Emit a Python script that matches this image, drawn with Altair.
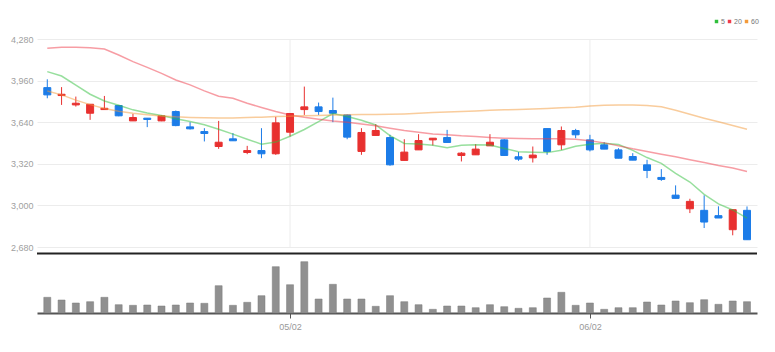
import altair as alt
import pandas as pd

# ---- data ----
opens  = [3906, 3845, 3773, 3709, 3737, 3768, 3650, 3671, 3650, 3722,
          3604, 3568, 3453, 3512, 3407, 3422, 3397, 3563, 3737, 3758,
          3730, 3696, 3415, 3538, 3522, 3346, 3427, 3504, 3522, 3384,
          3389, 3458, 3504, 3374, 3366, 3591, 3466, 3576, 3504, 3466,
          3427, 3376, 3312, 3215, 3079, 2974, 2962, 2921, 2813, 2962]
highs  = [3970, 3910, 3837, 3778, 3842, 3773, 3704, 3671, 3694, 3730,
          3640, 3594, 3650, 3556, 3458, 3594, 3681, 3707, 3914, 3791,
          3829, 3701, 3594, 3625, 3543, 3509, 3548, 3517, 3581, 3410,
          3471, 3548, 3509, 3410, 3453, 3591, 3607, 3589, 3543, 3486,
          3440, 3402, 3351, 3279, 3154, 3051, 3077, 2993, 2967, 2992]
lows   = [3824, 3773, 3760, 3658, 3737, 3686, 3650, 3602, 3648, 3609,
          3584, 3492, 3435, 3497, 3394, 3363, 3389, 3530, 3696, 3696,
          3640, 3509, 3389, 3538, 3305, 3346, 3427, 3461, 3484, 3338,
          3389, 3458, 3384, 3343, 3330, 3389, 3427, 3517, 3415, 3433,
          3363, 3348, 3210, 3189, 3054, 2941, 2826, 2903, 2770, 2736]
closes = [3850, 3855, 3786, 3778, 3747, 3689, 3676, 3661, 3689, 3614,
          3589, 3553, 3486, 3497, 3422, 3397, 3635, 3707, 3758, 3722,
          3709, 3525, 3561, 3576, 3312, 3410, 3499, 3517, 3484, 3402,
          3433, 3486, 3384, 3356, 3387, 3415, 3576, 3543, 3427, 3433,
          3363, 3348, 3269, 3200, 3054, 3031, 2872, 2903, 2967, 2736]
ma5    = [4029, 3995, 3925, 3855, 3803, 3771, 3735, 3710, 3692, 3666,
          3646, 3621, 3586, 3548, 3509, 3471, 3487, 3532, 3584, 3644,
          3706, 3684, 3655, 3619, 3537, 3477, 3472, 3463, 3444, 3462,
          3467, 3464, 3438, 3412, 3409, 3406, 3424, 3455, 3470, 3479,
          3468, 3423, 3368, 3323, 3247, 3180, 3085, 3012, 2965, 2902]
ma20   = [4208, 4216, 4216, 4213, 4203, 4157, 4106, 4062, 4016, 3965,
          3927, 3881, 3840, 3824, 3786, 3753, 3722, 3696, 3678, 3663,
          3650, 3640, 3627, 3612, 3594, 3576, 3563, 3550, 3543, 3535,
          3530, 3522, 3517, 3515, 3512, 3512, 3512, 3509, 3497, 3481,
          3458, 3435, 3415, 3394, 3374, 3351, 3330, 3307, 3287, 3261]
ma60   = [3880, 3850, 3810, 3775, 3745, 3725, 3708, 3697, 3688, 3681,
          3677, 3674, 3672, 3673, 3676, 3679, 3683, 3686, 3689, 3692,
          3695, 3697, 3699, 3700, 3701, 3704, 3709, 3714, 3719, 3723,
          3727, 3731, 3735, 3738, 3742, 3746, 3751, 3755, 3765, 3770,
          3773, 3772, 3769, 3758, 3732, 3701, 3671, 3643, 3614, 3586]
volumes = [157000, 130000, 100000, 113000, 157000, 83000, 77000, 80000, 70000, 80000,
           100000, 97000, 273000, 77000, 107000, 173000, 463000, 283000, 513000, 140000,
           287000, 140000, 140000, 67000, 173000, 113000, 83000, 37000, 70000, 70000,
           53000, 83000, 63000, 47000, 53000, 150000, 207000, 77000, 100000, 37000,
           53000, 53000, 110000, 80000, 120000, 103000, 133000, 87000, 120000, 113000]
tick_idx = [17, 38]
tick_labels = ["05/02", "06/02"]
y_ticks = [2680, 3000, 3320, 3640, 3960, 4280]
series_names = ["5", "20", "60"]
series_colors = ["#2fbf3b", "#ef3b4a", "#f39a3a"]

RED, BLUE = "#e8302f", "#1c7ce8"
FONT = "Liberation Sans Narrow, Liberation Sans, Arial, sans-serif"

n = len(opens)
idx = list(range(n))
df = pd.DataFrame({"i": idx, "open": opens, "high": highs, "low": lows,
                   "close": closes, "volume": volumes})
ma_df = pd.concat([
    pd.DataFrame({"i": idx, "series": name, "value": vals})
    for name, vals in zip(series_names, [ma5, ma20, ma60])
])
grid_df = pd.DataFrame({"i": tick_idx})

W, H = 720, 274
PH = 208

label_expr = " : ".join(
    f"datum.value == {v} ? '{l}'" for v, l in zip(tick_idx, tick_labels)
) + " : ''"

xscale = alt.Scale(domain=[-0.37, 49.35], nice=False, zero=False)
pscale = alt.Scale(domain=[2680, 4280], range=[PH, 0], nice=False, zero=False)
vscale = alt.Scale(domain=[0, 600000], range=[H, H - 60], nice=False, zero=False)
cscale = alt.Scale(domain=series_names, range=series_colors)

xaxis = alt.Axis(values=tick_idx, labelExpr=label_expr, grid=False, title=None,
                 domainColor="#555555", domainWidth=2, tickColor="#555555",
                 tickSize=5, tickWidth=1, labelColor="#999999", labelFont=FONT,
                 labelFontSize=9, labelPadding=4)
yaxis = alt.Axis(values=y_ticks, labelExpr="format(datum.value, ',')",
                 grid=True, gridColor="#ececec",
                 gridWidth=1, domain=False, ticks=False, title=None,
                 labelColor="#a0a0a0", labelFont=FONT, labelFontSize=9,
                 labelPadding=4)

cond = alt.condition(alt.datum.close >= alt.datum.open, alt.value(RED), alt.value(BLUE))

vgrid = alt.Chart(grid_df).mark_rule(color="#ececec", strokeWidth=1).encode(
    x=alt.X("i:Q", scale=xscale, axis=xaxis),
    y=alt.value(0), y2=alt.value(PH))

wick = alt.Chart(df).mark_rule(strokeWidth=1).encode(
    x=alt.X("i:Q", scale=xscale, axis=xaxis),
    y=alt.Y("low:Q", scale=pscale, axis=yaxis),
    y2="high:Q",
    color=cond)

body = alt.Chart(df).mark_bar(size=7, strokeWidth=1).encode(
    x=alt.X("i:Q", scale=xscale, axis=xaxis),
    y=alt.Y("open:Q", scale=pscale, axis=yaxis),
    y2="close:Q",
    color=cond, stroke=cond)

line_layers = [
    alt.Chart(ma_df).transform_filter(alt.datum.series == name)
    .mark_line(strokeWidth=1.5, strokeOpacity=0.5, color=col).encode(
        x=alt.X("i:Q", scale=xscale, axis=xaxis),
        y=alt.Y("value:Q", scale=pscale, axis=yaxis))
    for name, col in zip(series_names, series_colors)
]

keys = alt.Chart(ma_df).mark_square(size=0, opacity=1).encode(
    x=alt.X("i:Q", scale=xscale, axis=xaxis),
    y=alt.Y("value:Q", scale=pscale, axis=yaxis),
    color=alt.Color("series:N", scale=cscale,
                    legend=alt.Legend(
                        orient="none", legendX=676, legendY=-21,
                        direction="horizontal", title=None, gridAlign="none",
                        symbolType="square", symbolSize=12,
                        symbolStrokeWidth=0, symbolOpacity=1,
                        labelFont=FONT, labelFontSize=7, labelColor="#777777",
                        labelOffset=1, columnPadding=1)))

price = alt.layer(vgrid, wick, body, *line_layers, keys)

volbars = alt.Chart(df).mark_bar(size=7, color="#909090", stroke="#7a7a7a",
                                 strokeWidth=0.5).encode(
    x=alt.X("i:Q", scale=xscale, axis=xaxis),
    y=alt.Y("volume:Q", scale=vscale, axis=None))

sep = alt.Chart(pd.DataFrame({"a": [0]})).mark_rule(
    color="#222222", strokeWidth=2).encode(
    x=alt.value(0), x2=alt.value(W), y=alt.value(PH + 6.5))

chart = alt.layer(price, volbars, sep).resolve_scale(y="independent").properties(
    width=W, height=H,
    autosize=alt.AutoSizeParams(type="none"),
    padding={"left": 37, "top": 39, "right": 18, "bottom": 39},
    background="white",
).configure_view(stroke=None)

chart.save("out.html", embed_options={"renderer": "svg", "actions": False})
